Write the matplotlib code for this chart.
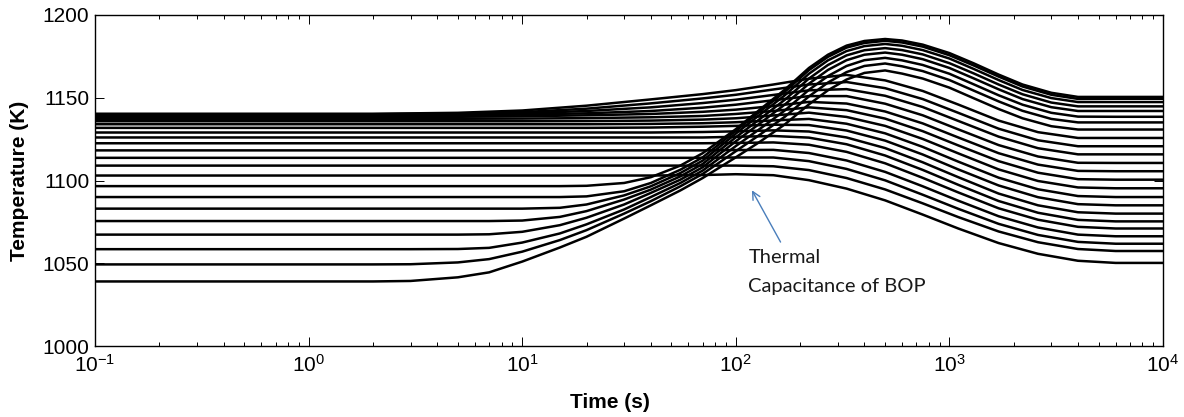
import matplotlib
matplotlib.use("Agg")
import matplotlib.pyplot as plt
from matplotlib.ticker import LogLocator, NullFormatter, FixedLocator

plt.rcParams['font.family'] = ['Liberation Sans', 'DejaVu Sans']
plt.rcParams['mathtext.fontset'] = 'custom'
plt.rcParams['mathtext.rm'] = 'Liberation Sans'
plt.rcParams['axes.unicode_minus'] = False

# ---------------- data ----------------
# time grid for the nearly flat curves (upper starting temperatures)
flat_times = [0.1, 2, 5, 10, 20, 40, 70, 100, 150, 220, 330, 500, 750,
              1100, 1700, 2600, 4000, 6000, 10000]
flat_1103 = [1103, 1103, 1103, 1103, 1103, 1103, 1103.3, 1103.8, 1103.2, 1100.2, 1095.1, 1088.0, 1079.4, 1071.0, 1062.2, 1055.7, 1051.5, 1050.2, 1050.2]
flat_1109 = [1109, 1109, 1109, 1109, 1109, 1109, 1109, 1109, 1108.6, 1106.3, 1101.5, 1094.6, 1086.2, 1077.9, 1069.2, 1062.7, 1058.6, 1057.4, 1057.4]
flat_1114 = [1113.7, 1113.7, 1113.7, 1113.7, 1113.7, 1113.7, 1113.7, 1113.9, 1113.9, 1111.7, 1107.0, 1100.1, 1091.4, 1082.9, 1073.8, 1067.1, 1062.9, 1061.8, 1061.8]
flat_1118 = [1118.2, 1118.2, 1118.2, 1118.2, 1118.2, 1118.2, 1118.2, 1118.4, 1118.5, 1116.6, 1112.1, 1105.2, 1096.5, 1087.8, 1078.4, 1071.6, 1067.3, 1066.3, 1066.3]
flat_1122 = [1122.5, 1122.5, 1122.5, 1122.5, 1122.5, 1122.5, 1122.5, 1122.7, 1123, 1121.6, 1117.3, 1110.4, 1101.6, 1092.8, 1083.2, 1076.3, 1072, 1071, 1071]
flat_1126 = [1126, 1126, 1126, 1126, 1126, 1126, 1126, 1126.4, 1126.9, 1125.9, 1121.9, 1115.1, 1106.4, 1097.4, 1087.6, 1080.5, 1076.2, 1075.3, 1075.3]
flat_1129 = [1129, 1129, 1129, 1129, 1129, 1129, 1129.3, 1129.7, 1130.3, 1129.6, 1126, 1119.6, 1111, 1102, 1092.1, 1085, 1080.8, 1080, 1080]
flat_1132 = [1131.8, 1131.8, 1131.8, 1131.8, 1131.8, 1132, 1132.5, 1133, 1133.7, 1133.5, 1130.2, 1124.1, 1115.7, 1106.7, 1097, 1089.9, 1085.7, 1085, 1085]
flat_1134 = [1134, 1134, 1134, 1134, 1134, 1134.2, 1134.6, 1135.2, 1136.3, 1137.2, 1134.3, 1128.5, 1120.3, 1111.4, 1101.7, 1094.7, 1090.6, 1090, 1090]
flat_1136 = [1135.8, 1135.8, 1135.8, 1135.8, 1135.9, 1136.2, 1136.8, 1137.6, 1139.3, 1141, 1138.4, 1133, 1125.1, 1116.4, 1106.7, 1099.7, 1095.8, 1095.3, 1095.3]
flat_1137 = [1137.3, 1137.3, 1137.3, 1137.4, 1137.7, 1138.2, 1139, 1140.2, 1142, 1144.2, 1142.5, 1137.4, 1129.8, 1121.2, 1111.7, 1104.7, 1100.8, 1100.5, 1100.5]
flat_1138 = [1138.5, 1138.5, 1138.5, 1138.8, 1139.4, 1140.2, 1141.5, 1142.8, 1145, 1147.5, 1146.5, 1141.7, 1134.5, 1126, 1116.5, 1109.6, 1105.8, 1105.6, 1105.6]
flat_1139 = [1139.3, 1139.3, 1139.4, 1139.8, 1140.6, 1142, 1144, 1145.8, 1148.5, 1151, 1151, 1146.4, 1139.4, 1130.9, 1121.4, 1114.5, 1110.7, 1110.6, 1110.6]
flat_1140a = [1139.8, 1139.8, 1140, 1140.6, 1142, 1144.2, 1146.8, 1148.8, 1151.7, 1154.5, 1155.2, 1151.2, 1144.4, 1136, 1126.5, 1119.5, 1115.8, 1115.8, 1115.8]
flat_1140b = [1140.1, 1140.1, 1140.4, 1141.3, 1143.4, 1146.6, 1149.6, 1151.8, 1155, 1158, 1159.5, 1155.8, 1149.2, 1140.9, 1131.3, 1124.3, 1120.7, 1120.7, 1120.7]
flat_1140c = [1140.3, 1140.3, 1140.9, 1142.3, 1145.2, 1149, 1152.2, 1154.6, 1158, 1161.5, 1163.8, 1160.5, 1154.1, 1145.9, 1136.2, 1129.2, 1125.7, 1125.7, 1125.7]

# time grid for the steeply rising curves (lower starting temperatures)
rise_times = [0.1, 2, 3, 5, 7, 10, 15, 20, 30, 40, 55, 70, 100, 130, 170, 220,
              270, 330, 400, 500, 600, 750, 1000, 1300, 1700, 2200, 3000, 4000, 6000, 10000]
rise_1039 = [1039, 1039, 1039.3, 1041.5, 1044.5, 1051, 1059.5, 1066, 1077, 1085, 1094, 1101.5, 1114, 1123.5, 1134, 1146, 1154.5, 1161, 1165, 1166.5, 1164.6, 1161.6, 1156.1, 1149.7, 1143.2, 1137.6, 1132.8, 1130.8, 1130.8, 1130.8]
rise_1049 = [1049.3, 1049.3, 1049.4, 1050.5, 1052.5, 1057, 1064, 1070, 1080, 1087.5, 1096.5, 1104, 1117.7, 1127.8, 1138.6, 1150.8, 1159.2, 1165.5, 1169.2, 1170.7, 1169, 1166.1, 1160.7, 1154.3, 1147.8, 1142.1, 1137.2, 1135.1, 1135.1, 1135.1]
rise_1058 = [1058.5, 1058.5, 1058.5, 1058.6, 1059.3, 1062.5, 1068, 1073.5, 1082.5, 1090, 1098.5, 1106, 1120.8, 1131.3, 1142.4, 1154.8, 1163.1, 1169.2, 1172.7, 1174.1, 1172.6, 1169.8, 1164.5, 1158.1, 1151.5, 1145.8, 1140.9, 1138.6, 1138.5, 1138.5]
rise_1067 = [1067.3, 1067.3, 1067.3, 1067.3, 1067.5, 1069, 1073, 1077.5, 1085.5, 1092.5, 1100.5, 1108, 1123.7, 1134.6, 1146, 1158.5, 1166.8, 1172.7, 1176, 1177.3, 1176, 1173.3, 1168, 1161.7, 1155.1, 1149.2, 1144.3, 1142, 1142, 1142]
rise_1075 = [1075.5, 1075.5, 1075.5, 1075.5, 1075.5, 1075.8, 1078, 1081.5, 1088.5, 1094.5, 1102.5, 1110, 1126.1, 1137.3, 1148.9, 1161.6, 1169.8, 1175.6, 1178.7, 1180, 1178.8, 1176.2, 1170.9, 1164.7, 1158, 1152.1, 1147.1, 1144.8, 1144.8, 1144.8]
rise_1083 = [1083, 1083, 1083, 1083, 1083, 1083, 1083.5, 1085.5, 1091, 1096.5, 1104.5, 1112, 1128.3, 1139.9, 1151.6, 1164.5, 1172.6, 1178.2, 1181.2, 1182.5, 1181.4, 1178.8, 1173.7, 1167.4, 1160.7, 1154.7, 1149.8, 1147.4, 1147.4, 1147.4]
rise_1090 = [1090, 1090, 1090, 1090, 1090, 1090, 1090, 1090.4, 1093.5, 1098.5, 1106.5, 1114, 1130, 1141.8, 1153.7, 1166.7, 1174.7, 1180.3, 1183.1, 1184.4, 1183.4, 1180.9, 1175.7, 1169.5, 1162.8, 1156.8, 1151.8, 1149.3, 1149.4, 1149.4]
rise_1097 = [1096.6, 1096.6, 1096.6, 1096.6, 1096.6, 1096.6, 1096.6, 1096.8, 1098.5, 1102, 1109, 1116.5, 1131, 1143, 1155, 1168, 1176, 1181.5, 1184.3, 1185.5, 1184.6, 1182.1, 1177, 1170.8, 1164, 1158, 1153, 1150.5, 1150.5, 1150.5]

y_ticks = [1000, 1050, 1100, 1150, 1200]
annotation_lines = ["Thermal", "Capacitance of BOP"]

flat_curves = [flat_1103, flat_1109, flat_1114, flat_1118, flat_1122, flat_1126,
               flat_1129, flat_1132, flat_1134, flat_1136, flat_1137, flat_1138,
               flat_1139, flat_1140a, flat_1140b, flat_1140c]
rise_curves = [rise_1039, rise_1049, rise_1058, rise_1067, rise_1075,
               rise_1083, rise_1090, rise_1097]

# ---------------- figure ----------------
W, H = 1184, 417
fig = plt.figure(figsize=(W / 100, H / 100), dpi=100)
L, R, T, B = 95, 1163, 15, 346
ax = fig.add_axes([L / W, 1 - B / H, (R - L) / W, (B - T) / H])

for c in flat_curves:
    ax.plot(flat_times, c, color='black', lw=1.8, solid_joinstyle='round')
for c in rise_curves:
    ax.plot(rise_times, c, color='black', lw=1.8, solid_joinstyle='round')

ax.set_xscale('log')
ax.set_xlim(0.1, 10000)
ax.set_ylim(1000, 1200)
ax.yaxis.set_major_locator(FixedLocator(y_ticks))
ax.xaxis.set_major_locator(LogLocator(base=10, numticks=10))
ax.xaxis.set_minor_locator(LogLocator(base=10, subs=range(2, 10), numticks=100))
ax.xaxis.set_minor_formatter(NullFormatter())

ax.tick_params(which='both', direction='in', top=True, right=True, width=0.7,
               colors='black')
ax.tick_params(which='major', length=6.5, labelsize=15)
ax.tick_params(axis='x', which='major', pad=6)
ax.tick_params(axis='y', which='major', pad=4)
ax.tick_params(which='minor', length=3.2)
for s in ax.spines.values():
    s.set_linewidth(1.0)

fig.text(19.5 / W, 1 - 180.5 / H, 'Temperature (K)', rotation=90,
         ha='center', va='center', fontsize=15, fontweight='bold')
fig.text(610 / W, 1 - 403 / H, 'Time (s)', ha='center', va='center',
         fontsize=15, fontweight='bold')

ax.annotate('', xy=(119, 1094.1), xytext=(162, 1062.8),
            arrowprops=dict(arrowstyle='->', color='#4a7ebb', lw=1.0,
                            shrinkA=0, shrinkB=0, mutation_scale=14))
ax.text(114.5, 1050.2, annotation_lines[0], ha='left', va='baseline',
        fontsize=14.5, family=['Lato', 'DejaVu Sans'], color='#1a1a1a')
ax.text(114.5, 1032.6, annotation_lines[1], ha='left', va='baseline',
        fontsize=14.5, family=['Lato', 'DejaVu Sans'], color='#1a1a1a')

fig.savefig('out.png', dpi=100)
